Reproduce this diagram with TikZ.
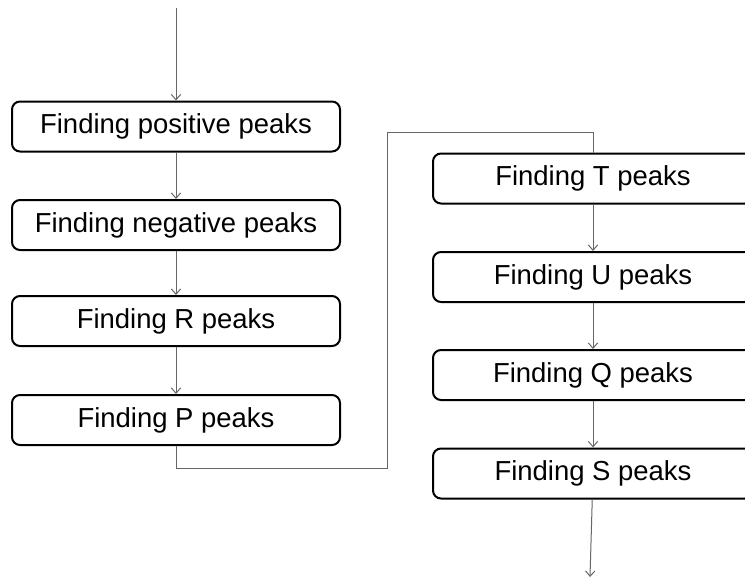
\documentclass[tikz,border=0pt]{standalone}
\usepackage{fontspec}
\setmainfont{Liberation Sans}
\usetikzlibrary{arrows.meta}

\tikzset{
  stage/.style={draw, rounded corners=6pt, line width=1.5pt, minimum width=246pt,
    minimum height=37.5pt, inner sep=0pt, font=\fontsize{20.6}{24}\selectfont},
  rstage/.style={stage, minimum width=240pt},
  flow/.style={draw=black!60, line width=0.75pt, -{Straight Barb[length=4pt,width=7pt]}},
  link/.style={draw=black!60, line width=0.75pt}
}

\begin{document}
\begin{tikzpicture}[x=0.75pt,y=-0.75pt]

\clip (0,0) rectangle (745,578);

% left column
\node[stage] (pos) at (176,126.5) {Finding positive peaks};
\node[stage] (neg) at (176,225) {Finding negative peaks};
\node[stage] (rpk) at (176,321) {Finding R peaks};
\node[stage] (ppk) at (176,420) {Finding P peaks};

% right column
\node[rstage] (tpk) at (593,178.5) {Finding T peaks};
\node[rstage] (upk) at (593,277) {Finding U peaks};
\node[rstage] (qpk) at (593,375) {Finding Q peaks};
\node[rstage] (spk) at (593,473.5) {Finding S peaks};

\coordinate (in) at (176,8);
\coordinate (bl) at (387,468);
\coordinate (tl) at (387,132);
\coordinate (out) at (590,577);

\draw[flow] (in) -- (pos);
\draw[flow] (pos) -- (neg);
\draw[flow] (neg) -- (rpk);
\draw[flow] (rpk) -- (ppk);
\draw[link] (ppk.south) |- (bl) -- (tl) -| (tpk.north);
\draw[flow] (tpk) -- (upk);
\draw[flow] (upk) -- (qpk);
\draw[flow] (qpk) -- (spk);
\draw[flow] (spk) -- (out);

\end{tikzpicture}
\end{document}
